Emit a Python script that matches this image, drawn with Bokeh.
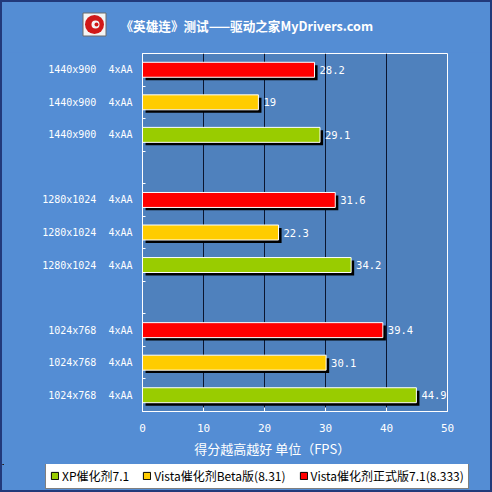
from bokeh.plotting import figure
from bokeh.layouts import column
from bokeh.models import (ColumnDataSource, Range1d, FixedTicker, Legend, LegendItem)
from bokeh.transform import dodge
from bokeh.core.properties import value
from bokeh.embed import file_html
from bokeh.resources import INLINE

# ---- data ----
resolutions = ["1440x900", "1280x1024", "1024x768"]
aa_mode = "4xAA"
series_names = ["XP催化剂7.1", "Vista催化剂Beta版(8.31)", "Vista催化剂正式版7.1(8.333)"]
series_colors = ["#99cc00", "#ffcc00", "#ff0000"]
xp_fps = [29.1, 34.2, 44.9]
beta_fps = [19, 22.3, 30.1]
final_fps = [28.2, 31.6, 39.4]
x_ticks = [0, 10, 20, 30, 40, 50]
x_label = "得分越高越好 单位（FPS）"
title_text = "《英雄连》测试——驱动之家MyDrivers.com"

values_by_series = [xp_fps, beta_fps, final_fps]
order_in_group = [2, 1, 0]  # top→bottom: final, beta, xp
slots_per_group = 4

ys, vals, cols, texts, zeros = [], [], [], [], []
for g, res in enumerate(resolutions):
    for k, s in enumerate(order_in_group):
        ys.append(g * slots_per_group + k)
        v = values_by_series[s][g]
        vals.append(v)
        cols.append(series_colors[s])
        texts.append(f"{v:g}")
        zeros.append(0)
src = ColumnDataSource(dict(y=ys, v=vals, c=cols, t=texts, zero=zeros))
n_slots = len(resolutions) * slots_per_group - 1

FONT = "Noto Sans CJK SC"
MONO = "DejaVu Sans Mono"
OUTER = "#548dd4"
INNER = "#4f81bd"
W = 488


def no_align(f):
    if "frame_align" in f.properties():
        f.frame_align = False
    return f


def blank(height):
    f = figure(width=W, height=height, x_range=Range1d(0, W),
               y_range=Range1d(height, 0), min_border=0,
               output_backend="svg", toolbar_location=None,
               x_axis_location=None, y_axis_location=None,
               outline_line_color=None, background_fill_color=OUTER,
               border_fill_color=OUTER)
    f.grid.visible = False
    return no_align(f)


# ---- title strip ----
top = blank(50)
top.rect(x=[92], y=[22], width=23, height=23, width_units="screen",
         height_units="screen", fill_color="#f4f4f4", line_color="#6a6a6a")
top.scatter(x=[92], y=[22], size=19, marker="circle", fill_color="#d01818",
            line_color=None)
top.scatter(x=[93], y=[22], size=8, marker="circle", fill_color="#f4f4f4",
            line_color=None)
top.scatter(x=[94], y=[22], size=4, marker="circle", fill_color="#d01818",
            line_color=None)
top.text(x=[118], y=[23], text=[title_text], text_baseline="middle",
         text_align="left", text_color="white", text_font=value(FONT),
         text_font_size="12.6px", text_font_style="bold")

# ---- main chart ----
p = figure(width=W, height=412,
           x_range=Range1d(x_ticks[0], x_ticks[-1]),
           y_range=Range1d(n_slots - 0.5, -0.5),
           output_backend="svg", toolbar_location=None,
           min_border_left=140, min_border_right=43,
           min_border_top=1, min_border_bottom=53,
           background_fill_color=INNER, border_fill_color=OUTER,
           outline_line_color="white", outline_line_width=1)
no_align(p)

bar_h = 0.46
p.hbar(y=dodge("y", 0.09), left=dodge("zero", 0.5), right=dodge("v", 0.5),
       height=bar_h, source=src, fill_color="black", line_color=None)
p.hbar(y="y", left="zero", right="v", height=bar_h, source=src,
       fill_color="c", line_color="white", line_width=1)
p.text(x="v", y="y", text="t", source=src, x_offset=5, text_baseline="middle",
       text_align="left", text_color="white", text_font=value(MONO),
       text_font_size="10.5px")

p.xaxis.ticker = FixedTicker(ticks=x_ticks)
p.xaxis.axis_line_color = "white"
p.xaxis.major_tick_line_color = "white"
p.xaxis.major_tick_in = 4
p.xaxis.major_tick_out = 0
p.xaxis.minor_tick_line_color = None
p.xaxis.major_label_text_color = "white"
p.xaxis.major_label_text_font = MONO
p.xaxis.major_label_text_font_size = "11px"
p.xaxis.major_label_standoff = 12
p.xaxis.axis_label = x_label + "\u3000" * 4
p.xaxis.axis_label_text_color = "white"
p.xaxis.axis_label_text_font = FONT
p.xaxis.axis_label_text_font_size = "13px"
p.xaxis.axis_label_text_font_style = "normal"
p.xaxis.axis_label_standoff = 4

p.yaxis.ticker = FixedTicker(ticks=ys, minor_ticks=[i - 0.5 for i in range(n_slots + 1)])
p.yaxis.major_label_overrides = {
    y: f"{resolutions[y // slots_per_group]}\u00a0\u00a0{aa_mode}" for y in ys}
p.yaxis.axis_line_color = "white"
p.yaxis.major_tick_line_color = None
p.yaxis.major_tick_in = 0
p.yaxis.major_tick_out = 0
p.yaxis.minor_tick_line_color = "white"
p.yaxis.minor_tick_in = 3
p.yaxis.minor_tick_out = 0
p.yaxis.major_label_text_color = "white"
p.yaxis.major_label_text_font = MONO
p.yaxis.major_label_text_font_size = "10px"
p.yaxis.major_label_standoff = 10

p.xgrid.ticker = FixedTicker(ticks=x_ticks[1:-1])
p.xgrid.grid_line_color = "#0b1630"
p.ygrid.grid_line_color = None

# ---- legend strip ----
bot = blank(26)
dummies = []
for i in range(len(series_names)):
    # one off-screen point so that the legend swatch is drawn
    r = bot.hbar(y=[-1000], left=[0], right=[1], height=1,
                 fill_color=series_colors[i], line_color="black", line_width=1)
    dummies.append(r)
legend = Legend(items=[LegendItem(label=series_names[i], renderers=[dummies[i]])
                       for i in range(len(series_names))],
                orientation="horizontal", location=(43, 1),
                background_fill_color="white", background_fill_alpha=1,
                border_line_color="black", border_line_width=1,
                label_text_font=FONT, label_text_font_size="12px",
                label_text_color="black", glyph_width=9, glyph_height=9,
                label_standoff=3, spacing=13, padding=4, margin=0,
                label_height=13)
bot.add_layout(legend)

layout = column(column(top), column(p), column(bot), spacing=0,
                styles={"border": "2px solid #22397a", "background": OUTER})

open("out.html", "w").write(file_html(layout, INLINE))
